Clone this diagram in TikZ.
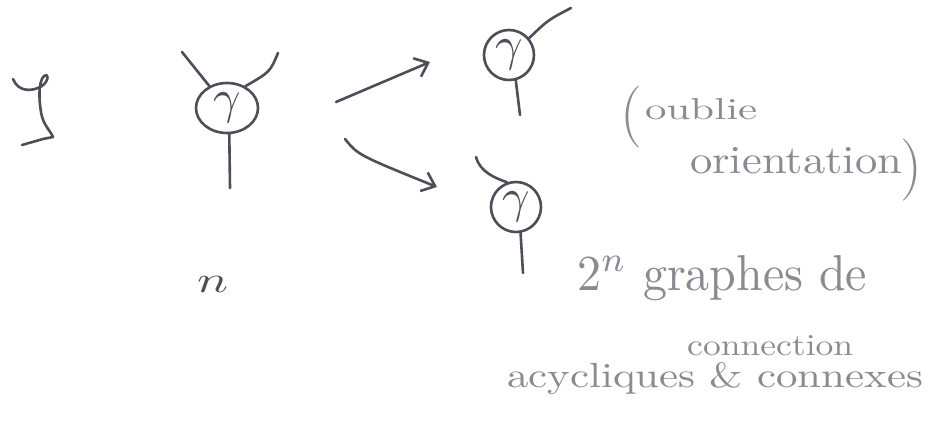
\documentclass[tikz,border=0pt]{standalone}
\usepackage{graphicx}
\usetikzlibrary{arrows.meta,shapes.geometric}
\definecolor{ink}{RGB}{78,78,90}
\definecolor{pencil}{RGB}{138,138,146}
\newcommand\fitw[3]{\resizebox{#1}{#2}{#3}}
\newcommand\gam[1]{\resizebox*{!}{#1}{$\gamma$}}
\begin{document}
\begin{tikzpicture}[x=1pt,y=-1pt,
  stroke/.style={draw=ink, line width=2.6pt, line cap=round, line join=round},
  vertex/.style={stroke, circle, inner sep=0pt, minimum size=50pt, text=ink},
  note/.style={text=pencil, inner sep=0pt, anchor=base west},
  arr/.style={stroke, -{Straight Barb[length=12pt,width=20pt,line width=2.6pt]}}]
\useasboundingbox (0,0) rectangle (932,436);
% left glyph
\draw[stroke] (13,79) .. controls (18,92) and (32,92) .. (42,86)
  .. controls (50,80) and (48,72) .. (44,76)
  .. controls (38,82) and (39,100) .. (41,112)
  .. controls (43,125) and (50,130) .. (53,137) -- (43,139) -- (22,145);
% main vertex
\node[vertex, ellipse, minimum width=62pt, minimum height=50pt] (g1) at (227,108) {\gam{30pt}};
\coordinate (g1tl) at (182,52);
\coordinate (g1tr) at (278,53);
\coordinate (g1b) at (230,188);
\draw[stroke] (g1tl) -- (g1);
\draw[stroke] (g1tr) .. controls (270,72) .. (g1.50);
\draw[stroke] (g1.-85) -- (g1b);
\node[text=ink, inner sep=0pt, anchor=base west] (nn) at (197,292) {\fitw{31pt}{16pt}{$n$}};
% arrows
\coordinate (a1s) at (336,102);
\coordinate (a1e) at (430,62);
\draw[arr] (a1s) -- (a1e);
\coordinate (a2s) at (345,139);
\coordinate (a2e) at (437,187);
\draw[arr] (a2s) .. controls (358,155) .. (a2e);
% upper vertex
\node[vertex] (g2) at (509,55) {\gam{30pt}};
\coordinate (g2tr) at (571,8);
\coordinate (g2b) at (520,115);
\draw[stroke] (g2tr) .. controls (548,20) .. (g2.40);
\draw[stroke] (g2.-75) -- (g2b);
% lower vertex
\node[vertex] (g3) at (516,207) {\gam{30pt}};
\coordinate (g3tl) at (476,157);
\coordinate (g3b) at (523,273);
\draw[stroke] (g3tl) .. controls (480,172) and (495,178) .. (g3.110);
\draw[stroke] (g3.-80) -- (g3b);
% texts
\node[note] (lp) at (620,132) {\fontsize{62}{62}\selectfont(};
\node[note] (oub) at (645,120) {\fitw{112pt}{21pt}{oublie}};
\node[note] (ori) at (690,173) {\fitw{212pt}{26pt}{orientation}};
\node[note] (rp) at (900,185) {\fontsize{62}{62}\selectfont)};
\node[note] (gr) at (577,290) {\fitw{290pt}{35pt}{$2^{n}$ graphes de}};
\node[note] (con) at (687,355) {\fitw{166pt}{20pt}{connection}};
\node[note] (acy) at (507,387) {\fitw{416pt}{25pt}{acycliques \& connexes}};
\end{tikzpicture}
\end{document}
